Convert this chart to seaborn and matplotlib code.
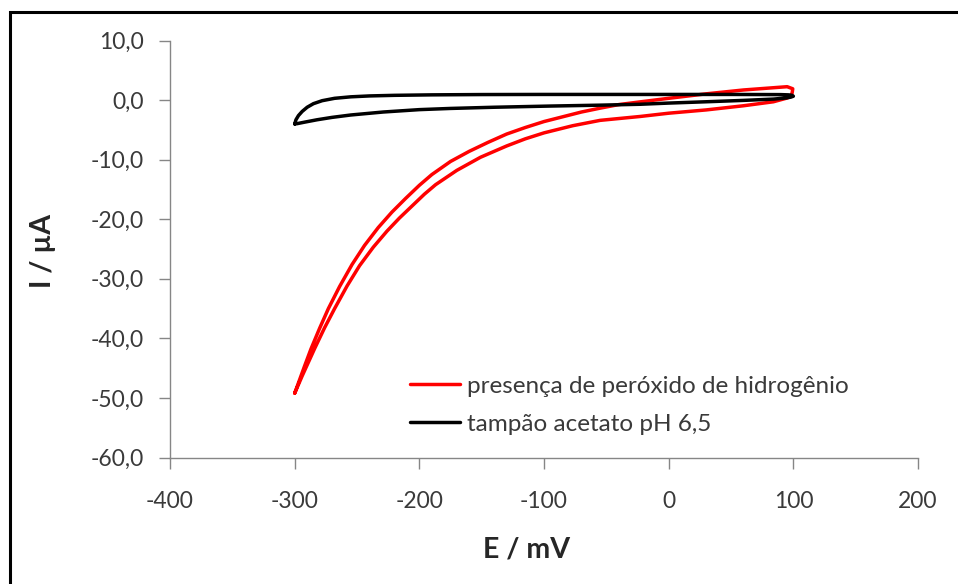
import matplotlib

matplotlib.use("Agg")
import matplotlib.pyplot as plt
import pandas as pd
import seaborn as sns
from matplotlib.patches import Rectangle


sns.set_style("ticks")
plt.rcParams["font.family"] = ["Lato", "DejaVu Sans"]

# red loop: outer branch -300 -> +100, then back along the inner branch
PEROXIDE_E = [
    -300, -296, -292, -287, -280, -273, -264, -254, -244, -233, -222, -211,
    -200, -190, -175, -160, -145, -130, -115, -100, -85, -70, -55, -40, -23,
    0, 30, 60, 95, 99.5, 99, 97.5,
    95, 84, 60, 30, 0, -23, -55, -77, -100, -115, -130, -151, -170, -187, -196,
    -206, -216, -226, -237, -248, -258, -268, -276, -284, -294, -300,
]
PEROXIDE_I = [
    -49.2, -46.9, -44.6, -41.8, -38.3, -35.0, -31.3, -27.6, -24.4, -21.4, -18.8, -16.5,
    -14.3, -12.5, -10.3, -8.6, -7.1, -5.7, -4.6, -3.6, -2.8, -2.0, -1.35, -0.75, -0.3,
    0.3, 1.05, 1.7, 2.25, 1.9, 1.2, 0.6,
    0.35, -0.28, -0.95, -1.65, -2.2, -2.75, -3.4, -4.3, -5.5, -6.5, -7.7, -9.6, -11.8, -14.2, -15.8,
    -17.8, -19.8, -22.0, -24.7, -27.8, -31.2, -35.0, -38.2, -41.7, -46.3, -49.2,
]

# black loop: buffer only
BUFFER_E = [
    -300, -299, -297, -294, -290, -285, -278, -268, -255, -240, -220, -190,
    -150, -100, 0, 50, 90, 96, 99, 100,
    98, 94, 84, 60, 30, 0, -23, -55, -95, -140, -175, -200, -229, -255,
    -270, -282, -292, -298, -300,
]
BUFFER_I = [
    -4.0, -3.3, -2.6, -1.9, -1.2, -0.6, -0.1, 0.3, 0.55, 0.7, 0.8, 0.88,
    0.93, 0.95, 0.95, 0.95, 0.92, 0.88, 0.8, 0.65,
    0.5, 0.35, 0.17, -0.05, -0.28, -0.5, -0.7, -0.85, -1.0, -1.2, -1.4, -1.6, -2.0, -2.5,
    -2.9, -3.3, -3.7, -3.95, -4.0,
]

SERIES = ["presença de peróxido de hidrogênio", "tampão acetato pH 6,5"]
COLORS = ["#FF0000", "#000000"]

X_TICKS = [-400, -300, -200, -100, 0, 100, 200]
Y_TICKS = [10, 0, -10, -20, -30, -40, -50, -60]
Y_TICK_LABELS = ["10,0", "0,0", "-10,0", "-20,0", "-30,0", "-40,0", "-50,0", "-60,0"]

AXIS_GREY = "#868686"
TEXT_GREY = "#3a3a3a"


def build_frame() -> pd.DataFrame:
    peroxide = pd.DataFrame({"E": PEROXIDE_E, "I": PEROXIDE_I, "serie": SERIES[0]})
    buffer = pd.DataFrame({"E": BUFFER_E, "I": BUFFER_I, "serie": SERIES[1]})
    return pd.concat([peroxide, buffer], ignore_index=True)


def main() -> None:
    df = build_frame()

    fig = plt.figure(figsize=(9.58, 5.84), dpi=100)
    ax = fig.add_axes([0.1775, 0.2166, 0.7808, 0.7140])

    sns.lineplot(
        data=df, x="E", y="I", hue="serie", hue_order=SERIES,
        palette=COLORS, sort=False, estimator=None, linewidth=2.5, ax=ax,
    )

    ax.set_xlim(-400, 200)
    ax.set_ylim(-60, 10)
    ax.set_xticks(X_TICKS)
    ax.set_xticklabels([str(t) for t in X_TICKS])
    ax.set_yticks(Y_TICKS)
    ax.set_yticklabels(Y_TICK_LABELS)

    sns.despine(ax=ax)
    for side in ("left", "bottom"):
        ax.spines[side].set_color(AXIS_GREY)
        ax.spines[side].set_linewidth(1.0)
    ax.tick_params(axis="both", direction="out", color=AXIS_GREY, width=1.0,
                   length=8, labelsize=16.5, labelcolor=TEXT_GREY)
    ax.tick_params(axis="y", pad=11)
    ax.tick_params(axis="x", pad=16)

    ax.set_xlabel("E / mV", fontsize=20.5, fontweight="bold", va="center")
    ax.set_ylabel("I / µA", fontsize=20.5, fontweight="bold", va="center")
    ax.xaxis.set_label_coords(0.477, -0.220)
    ax.yaxis.set_label_coords(-0.170, 0.495)

    sns.move_legend(
        ax, "center left", bbox_to_anchor=(0.3209, 0.1259), title=None,
        frameon=False, fontsize=17.5, handlelength=2.06, handletextpad=0.29,
        labelspacing=0.7, borderpad=0, borderaxespad=0,
    )
    for text in ax.get_legend().get_texts():
        text.set_color(TEXT_GREY)

    # black frame around the picture, running off the right and bottom edges
    fig.add_artist(Rectangle((10 / 958, -0.1), 1.2, 1.0795, transform=fig.transFigure,
                             fill=False, edgecolor="black", linewidth=2.2))

    fig.savefig("out.png", dpi=100)
    plt.close(fig)


if __name__ == "__main__":
    main()
